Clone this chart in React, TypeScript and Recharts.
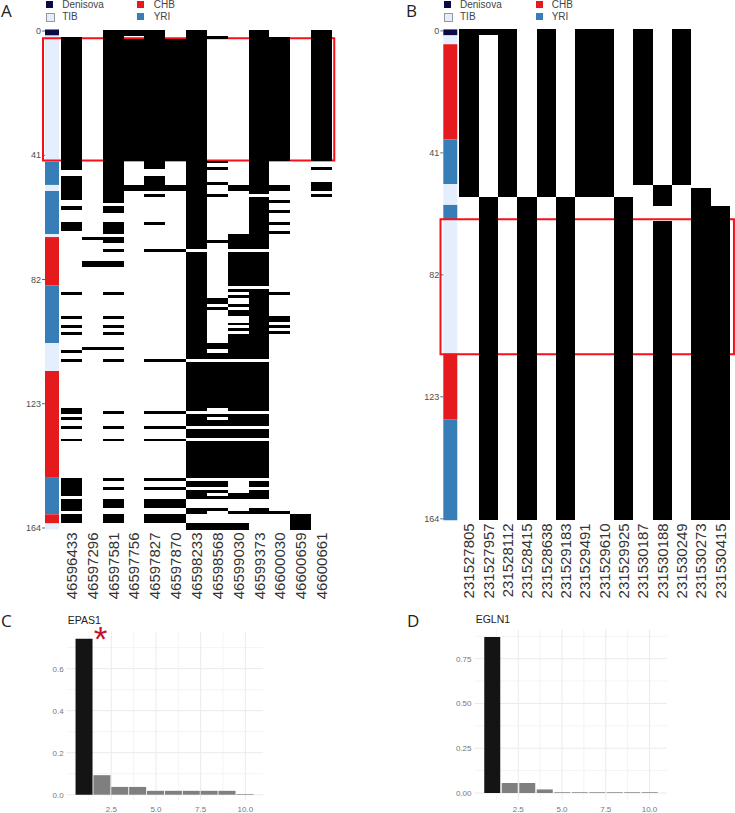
import {
  Bar,
  BarChart,
  CartesianGrid,
  Cell,
  ReferenceArea,
  ReferenceDot,
  XAxis,
  YAxis,
} from 'recharts';

const FONT = '"Liberation Sans", Arial, sans-serif';

const GROUP_COLORS: Record<string, string> = {
  Denisova: '#0a0a45',
  TIB: '#e4eefd',
  CHB: '#e41a1c',
  YRI: '#377eb8',
};

// row ticks shared by both haplotype panels
const rowTicks = [0.5, 41.5, 82.5, 123.5, 164.5];

// panel A
const snpsA = [
  '46596433', '46597296', '46597581', '46597756', '46597827', '46597870', '46598233',
  '46598568', '46599030', '46599373', '46600030', '46600659', '46600661',
];
const sidebarGroupsA = ['Denisova', 'TIB', 'YRI', 'TIB', 'YRI', 'TIB', 'CHB', 'YRI', 'TIB', 'CHB', 'YRI', 'CHB', 'TIB'];
const sidebarLengthsA = [2, 41.6, 7.7, 2, 14.2, 1, 16, 19, 9.2, 35.2, 12.1, 3, 2];
// black runs of each column, [first row edge, last row edge]
const runsA: number[][][] = [
  [[2.5, 46.4], [48.2, 56.3], [58.4, 59.4], [63.4, 66.4], [86.6, 87.6], [94.5, 95.5], [97.6, 98.6], [99.7, 100.7], [105.7, 106.7], [108.7, 109.7], [124.8, 126.9], [127.9, 128.9], [130.9, 131.9], [135, 135.9], [147.9, 154], [155, 159], [160, 163]],
  [[68.5, 69.5], [76.5, 78.5], [104.7, 105.7]],
  [[0, 57.4], [58.4, 60.4], [63.4, 67.4], [68.5, 70.5], [72.5, 73.5], [76.5, 78.5], [86.6, 87.6], [94.5, 95.5], [97.6, 98.6], [99.7, 100.7], [104.7, 105.7], [108.7, 109.7], [125.9, 126.9], [130.9, 131.9], [135, 135.9], [147.9, 148.9], [151, 152], [155, 158], [160, 163]],
  [[0, 2], [3, 43.5], [51.3, 53.3]],
  [[0, 46.1], [48.2, 53.3], [54.4, 55.4], [63.4, 64.4], [72.5, 73.5], [108.7, 109.7], [125.9, 126.9], [130.9, 131.9], [135, 135.9], [147.9, 148.9], [151, 152], [155, 158], [160, 163]],
  [[3, 43.5], [51.3, 53.3], [72.5, 73.5], [108.7, 109.7], [125.9, 126.9], [130.9, 131.9], [135, 135.9], [147.9, 148.9], [151, 152], [155, 158], [160, 163]],
  [[0, 72.5], [73.5, 108.7], [109.7, 125.9], [126.9, 130.9], [131.9, 134.9], [135.9, 147.9], [148.9, 151], [152, 155], [158, 160], [163, 165]],
  [[2, 3], [43.3, 44.2], [45.5, 46.5], [50.3, 51.3], [54.4, 55.4], [69.5, 70.5], [88.6, 90.6], [91.5, 92.5], [103.5, 105.5], [106.7, 108.7], [109.7, 124.8], [126.9, 127.9], [128.9, 130.9], [131.9, 134.9], [135.9, 147.9], [148.9, 151], [152, 153], [154, 155], [158, 159], [163, 165]],
  [[51.3, 53.3], [67.5, 72.5], [73.5, 84.5], [85.6, 86.6], [87.6, 88.6], [90.6, 91.6], [92.6, 94.6], [96.7, 97.6], [98.6, 99.6], [100.6, 108.7], [109.7, 125.9], [126.9, 130.9], [131.9, 134.9], [135.9, 147.9], [153, 155], [159, 160], [163, 165]],
  [[0, 54.4], [55.4, 72.5], [73.5, 84.5], [85.6, 108.7], [109.7, 125.9], [126.9, 130.9], [131.9, 134.9], [135.9, 147.9], [148.9, 151], [152, 155], [158, 160]],
  [[2.5, 43.5], [51.3, 53.3], [56.4, 57.4], [59.4, 60.4], [63.4, 64.4], [66.4, 67.4], [86.5, 87.5], [94.5, 96.5], [97.5, 98.5], [99.5, 100.5], [159, 160]],
  [[160, 165]],
  [[0, 43.5], [45.5, 46.5], [50.3, 53.3], [54.4, 55.4]],
];

// panel B
const snpsB = [
  '231527805', '231527957', '231528112', '231528415', '231528638', '231529183', '231529491',
  '231529610', '231529925', '231530187', '231530188', '231530249', '231530273', '231530415',
];
const sidebarGroupsB = ['Denisova', 'TIB', 'CHB', 'YRI', 'TIB', 'YRI', 'TIB', 'CHB', 'YRI'];
const sidebarLengthsB = [2, 3, 32, 15, 7, 5, 45, 22, 34];
const runsB: number[][][] = [
  [[0, 56.3]],
  [[0, 2], [56.3, 165]],
  [[0, 56.3]],
  [[56.3, 165]],
  [[0, 56.3]],
  [[56.3, 165]],
  [[0, 56.3]],
  [[0, 56.3]],
  [[56.3, 165]],
  [[0, 52.2]],
  [[52.2, 59.3], [64.3, 165]],
  [[0, 52.2]],
  [[53.4, 165]],
  [[59.3, 165]],
];

// panels C and D
const components = [1, 2, 3, 4, 5, 6, 7, 8, 9, 10];
const epas1Values = [0.743, 0.093, 0.037, 0.037, 0.0185, 0.0185, 0.0185, 0.0185, 0.0185, 0.003];
const egln1Values = [0.871, 0.056, 0.056, 0.02, 0.004, 0.004, 0.004, 0.004, 0.004, 0.004];

const buildMatrix = (snps: string[], runs: number[][][]) => {
  const rows = snps.map((snp, c) => {
    const row: Record<string, number | string> = { snp };
    let prev = 0;
    runs[c].forEach((r, i) => {
      row[`gap${i}`] = r[0] - prev;
      row[`run${i}`] = r[1] - r[0];
      prev = r[1];
    });
    return row;
  });
  return { rows, layers: Math.max(...runs.map((r) => r.length)) };
};

const ColumnTick = ({ x, y, payload }: any) => (
  <text
    x={x}
    y={y + 3}
    transform={`rotate(-90 ${x} ${y + 3})`}
    textAnchor="end"
    dominantBaseline="central"
    fontSize={15}
    fontFamily={FONT}
    fill="#333"
  >
    {payload.value}
  </text>
);

interface HaplotypeProps {
  left: number;
  plotLeft: number;
  plotRight: number;
  plotTop: number;
  plotBottom: number;
  barLeft: number;
  snps: string[];
  runs: number[][][];
  groups: string[];
  lengths: number[];
  box: { x1: number; x2: number; y1: number; y2: number };
}

const HEAT_H = 610;

const Haplotype = ({ left, plotLeft, plotRight, plotTop, plotBottom, barLeft, snps, runs, groups, lengths, box }: HaplotypeProps) => {
  const { rows, layers } = buildMatrix(snps, runs);
  const sideRow: Record<string, number | string> = { name: 'pop' };
  lengths.forEach((v, i) => {
    sideRow[`seg${i}`] = v;
  });
  const width = 735 - left;
  const axisH = HEAT_H - plotBottom;
  // recharts floors the automatic bar width, so ask for just under the band
  const cellWidth = (plotRight - plotLeft) / snps.length - 0.01;
  return (
    <>
      <div style={{ position: 'absolute', left, top: 0 }}>
        <BarChart
          width={plotLeft}
          height={HEAT_H}
          data={[sideRow]}
          barCategoryGap={0}
          margin={{ top: plotTop, right: plotLeft - barLeft - 14, bottom: 0, left: 0 }}
        >
          <XAxis dataKey="name" height={axisH} tick={false} axisLine={false} tickLine={false} />
          <YAxis
            type="number"
            reversed
            width={barLeft}
            domain={[0, 165]}
            ticks={rowTicks}
            interval={0}
            tickFormatter={(v) => `${Math.floor(v)}`}
            axisLine={false}
            tickLine={{ stroke: '#666' }}
            tickSize={3}
            tickMargin={1}
            tick={{ fontSize: 9, fill: '#4d4d4d', fontFamily: FONT }}
          />
          {lengths.map((_, i) => (
            <Bar
              key={i}
              dataKey={`seg${i}`}
              stackId="pop"
              fill={GROUP_COLORS[groups[i]]}
              isAnimationActive={false}
            />
          ))}
        </BarChart>
      </div>
      <div style={{ position: 'absolute', left, top: 0 }}>
        <BarChart
          width={width}
          height={HEAT_H}
          data={rows}
          barCategoryGap={0}
          margin={{ top: plotTop, right: width - plotRight, bottom: 0, left: plotLeft }}
        >
          <XAxis
            dataKey="snp"
            height={axisH}
            interval={0}
            axisLine={false}
            tickLine={false}
            tickSize={0}
            tickMargin={0}
            tick={ColumnTick}
          />
          {/* no dataKey: this axis runs over the row indexes, first to last column */}
          <XAxis xAxisId="box" type="number" hide domain={[0, snps.length - 1]} allowDataOverflow />
          <YAxis type="number" reversed hide domain={[0, 165]} />
          {Array.from({ length: layers }).flatMap((_, i) => [
            <Bar key={`g${i}`} dataKey={`gap${i}`} stackId="hap" barSize={cellWidth} fill="none" isAnimationActive={false} />,
            <Bar
              key={`r${i}`}
              dataKey={`run${i}`}
              stackId="hap"
              barSize={cellWidth}
              fill="#000"
              shapeRendering="crispEdges"
              isAnimationActive={false}
            />,
          ])}
          <ReferenceArea
            xAxisId="box"
            x1={box.x1}
            x2={box.x2}
            y1={box.y1}
            y2={box.y2}
            ifOverflow="visible"
            fill="none"
            fillOpacity={0}
            stroke="#f5101c"
            strokeWidth={2}
          />
        </BarChart>
      </div>
    </>
  );
};

interface LoadingProps {
  left: number;
  top: number;
  plotLeft: number;
  plotRight: number;
  plotTop: number;
  values: number[];
  domain: number[];
  major: number[];
  minor: number[];
  digits: number;
  barSize: number;
  star?: boolean;
}

const LOAD_W = 300;
const LOAD_H = 213;
const majorX = [2.5, 5, 7.5, 10];
const minorX = [1.25, 3.75, 6.25, 8.75];

const Loading = ({ left, top, plotLeft, plotRight, plotTop, values, domain, major, minor, digits, barSize, star }: LoadingProps) => (
  <div style={{ position: 'absolute', left, top }}>
    <BarChart
      width={LOAD_W}
      height={LOAD_H}
      data={components.map((c, i) => ({ c, v: values[i] }))}
      margin={{ top: plotTop, right: LOAD_W - plotRight, bottom: 0, left: 0 }}
    >
      <CartesianGrid horizontalValues={minor} verticalValues={minorX} stroke="#f4f4f4" strokeWidth={1} />
      <CartesianGrid horizontalValues={major} verticalValues={majorX} stroke="#ebebeb" strokeWidth={1} />
      <XAxis
        dataKey="c"
        type="number"
        domain={[0, 11]}
        ticks={majorX}
        height={13}
        axisLine={false}
        tickLine={false}
        tickSize={0}
        tickMargin={6}
        tickFormatter={(v) => v.toFixed(1)}
        tick={{ fontSize: 8, fill: '#777', fontFamily: FONT }}
      />
      <YAxis
        type="number"
        width={plotLeft}
        domain={domain}
        ticks={major}
        interval={0}
        allowDataOverflow
        axisLine={false}
        tickLine={false}
        tickSize={0}
        tickMargin={3}
        tickFormatter={(v) => v.toFixed(digits)}
        tick={{ fontSize: 8, fill: '#777', fontFamily: FONT }}
      />
      <Bar dataKey="v" barSize={barSize} isAnimationActive={false}>
        {components.map((c, i) => (
          <Cell key={c} fill={i === 0 ? '#141414' : '#7f7f7f'} />
        ))}
      </Bar>
      {star && (
        <ReferenceDot
          x={1.9}
          y={0.745}
          r={0}
          ifOverflow="visible"
          stroke="none"
          label={{ value: '*', position: 'center', fill: '#c8102e', fontSize: 35, fontFamily: FONT }}
        />
      )}
    </BarChart>
  </div>
);

const Legend = ({ left, swatch2, text2 }: { left: number; swatch2: number; text2: number }) => (
  <>
    {[
      ['Denisova', left, 1, left + 16.5],
      ['TIB', left, 13, left + 16.5],
      ['CHB', swatch2, 1, text2],
      ['YRI', swatch2, 13, text2],
    ].map(([name, x, y, tx]: any) => (
      <div key={name}>
        <div
          style={{
            position: 'absolute',
            left: x,
            top: y,
            width: 7,
            height: 7,
            background: GROUP_COLORS[name],
            border: name === 'TIB' ? '0.5px solid #999' : 'none',
          }}
        />
        <div
          style={{
            position: 'absolute',
            left: tx,
            top: y - 3,
            fontSize: 10,
            lineHeight: '13px',
            fontFamily: FONT,
            color: '#444',
          }}
        >
          {name}
        </div>
      </div>
    ))}
  </>
);

const Caption = ({ x, y, size, text, font = FONT }: { x: number; y: number; size: number; text: string; font?: string }) => (
  <div
    style={{
      position: 'absolute',
      left: x,
      top: y,
      fontSize: size,
      lineHeight: `${size}px`,
      fontFamily: font,
      color: '#222',
    }}
  >
    {text}
  </div>
);

const App = () => {
  return (
    <div style={{ position: 'absolute', left: 0, top: 0, width: 735, height: 813, background: '#fff', overflow: 'hidden' }}>
      <Haplotype
        left={0}
        plotLeft={61}
        plotRight={332}
        plotTop={29.5}
        plotBottom={529.5}
        barLeft={45}
        snps={snpsA}
        runs={runsA}
        groups={sidebarGroupsA}
        lengths={sidebarLengthsA}
        box={{ x1: -0.797, x2: 12.1, y1: 2.9, y2: 43.2 }}
      />
      <Haplotype
        left={400}
        plotLeft={59.3}
        plotRight={330}
        plotTop={29.4}
        plotBottom={520.3}
        barLeft={43.3}
        snps={snpsB}
        runs={runsB}
        groups={sidebarGroupsB}
        lengths={sidebarLengthsB}
        box={{ x1: -0.903, x2: 13.19, y1: 63.8, y2: 109.2 }}
      />
      <Legend left={45.7} swatch2={137.3} text2={153.7} />
      <Legend left={443.5} swatch2={535.7} text2={551.7} />
      <Loading
        left={0}
        top={600}
        plotLeft={66.6}
        plotRight={263.2}
        plotTop={31.7}
        values={epas1Values}
        domain={[-0.0252, 0.776]}
        major={[0, 0.2, 0.4, 0.6]}
        minor={[0.1, 0.3, 0.5, 0.7]}
        digits={1}
        barSize={17}
        star
      />
      <Loading
        left={400}
        top={600}
        plotLeft={74.5}
        plotRight={267}
        plotTop={29.3}
        values={egln1Values}
        domain={[-0.039, 0.914]}
        major={[0, 0.25, 0.5, 0.75]}
        minor={[0.125, 0.375, 0.625, 0.875]}
        digits={2}
        barSize={16}
      />
      <Caption x={1} y={2} size={17} text="A" font='"Open Sans", sans-serif' />
      <Caption x={406} y={2} size={17} text="B" font='"Open Sans", sans-serif' />
      <Caption x={1} y={612} size={17} text="C" font='"Open Sans", sans-serif' />
      <Caption x={407} y={612} size={17} text="D" font='"Open Sans", sans-serif' />
      <Caption x={67.7} y={615} size={10.5} text="EPAS1" />
      <Caption x={475.7} y={614} size={10.5} text="EGLN1" />
    </div>
  );
};

export default App;
